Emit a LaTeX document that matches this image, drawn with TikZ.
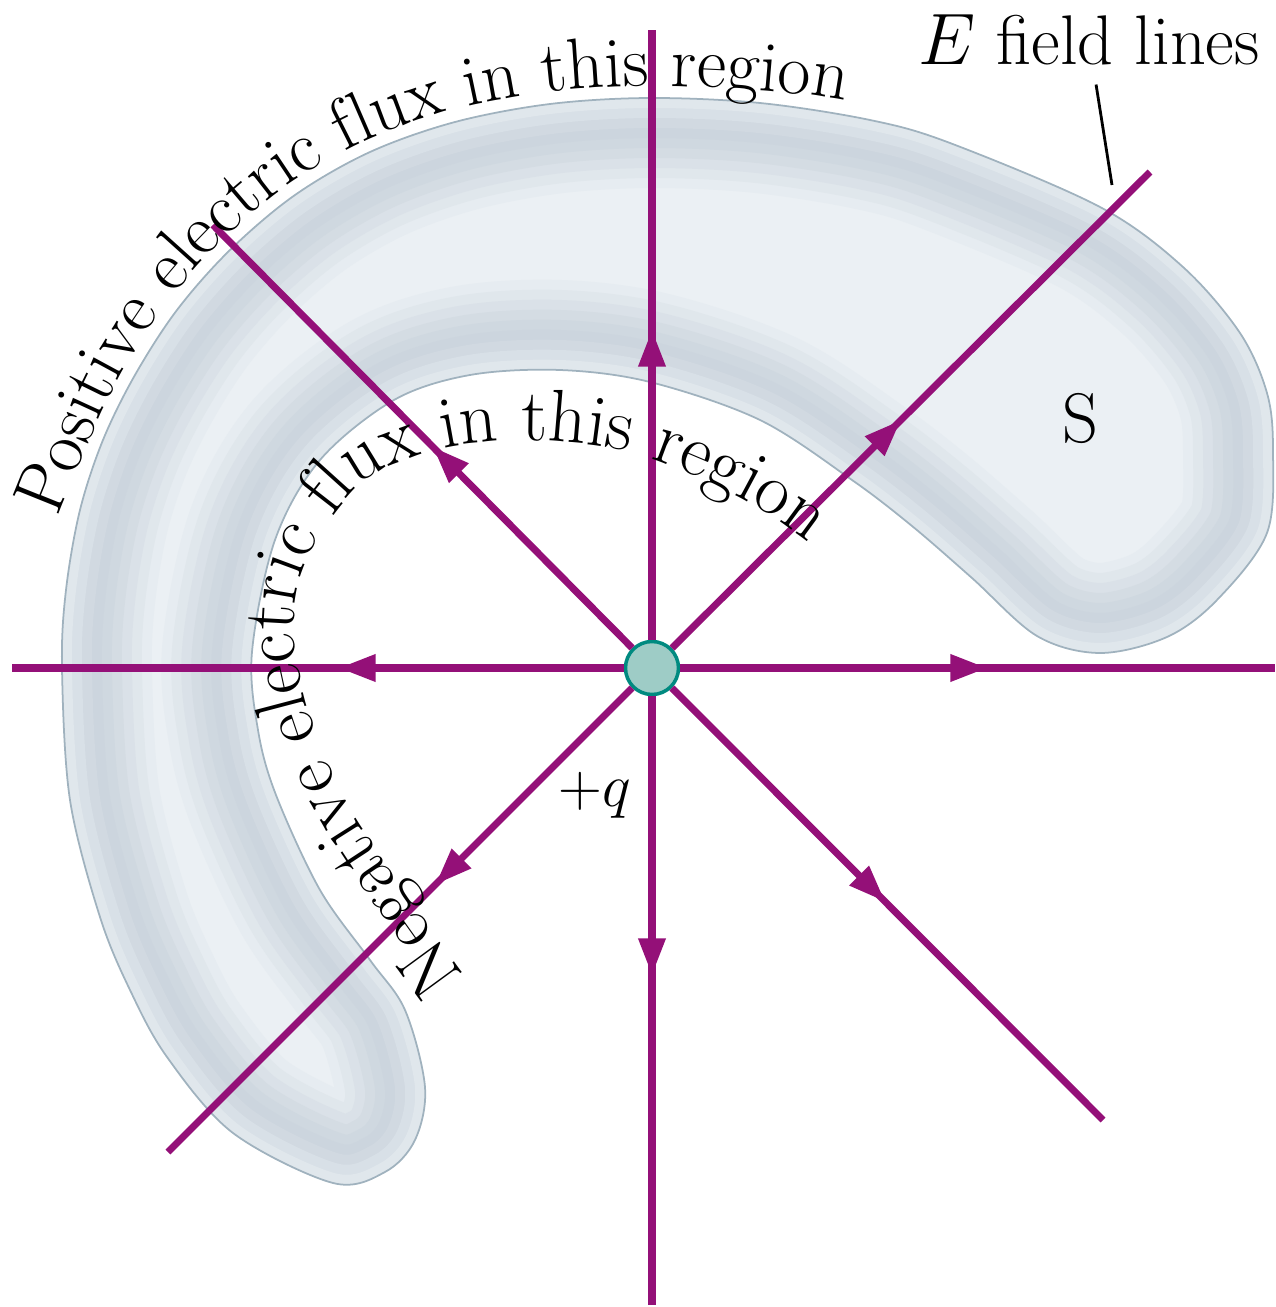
\documentclass[tikz,border=0pt]{standalone}
\usetikzlibrary{arrows.meta,decorations.markings,decorations.text}
\definecolor{fieldline}{RGB}{148,16,120}
\definecolor{bandlight}{RGB}{235,240,244}
\definecolor{bandshade}{RGB}{204,213,222}
\definecolor{bandedge}{RGB}{160,178,190}
\definecolor{chargefill}{RGB}{158,204,198}
\definecolor{chargeedge}{RGB}{0,138,128}
\newcommand{\fluxfont}{\fontsize{20.5}{24}\selectfont}
\newcommand{\holefont}{\fontsize{21}{25}\selectfont}
\newcommand{\bandpath}{plot[smooth cycle,tension=0.55] coordinates {(-3.19,-5.15) (-4.19,-4.65) (-4.85,-3.89) (-5.22,-3.22) (-5.52,-2.49) (-5.82,-1.32) (-5.90,0.00) (-5.86,0.78) (-5.72,1.58) (-5.49,2.28) (-5.17,2.93) (-4.75,3.58) (-4.22,4.18) (-3.57,4.73) (-2.82,5.16) (-1.97,5.46) (-1.02,5.64) (-0.02,5.70) (1.08,5.65) (2.18,5.48) (2.98,5.25) (4.48,4.61) (5.31,4.01) (5.88,3.35) (6.15,2.75) (6.21,2.18) (6.15,1.35) (5.65,0.68) (5.15,0.31) (4.48,0.15) (3.85,0.32) (3.20,0.90) (2.60,1.42) (2.00,1.88) (1.08,2.48) (-0.02,2.86) (-0.92,2.98) (-1.82,2.93) (-2.58,2.68) (-3.32,2.08) (-3.77,1.28) (-4.00,0.16) (-3.94,-0.62) (-3.76,-1.27) (-3.32,-2.22) (-2.82,-2.92) (-2.47,-3.42) (-2.27,-4.19) (-2.37,-4.72) (-2.67,-5.04)}}
\tikzset{field/.style={color=fieldline,line width=2pt},
 charge/.style={circle,fill=chargefill,draw=chargeedge,line width=1pt,minimum size=5.3mm,inner sep=0pt},
 arrowat/.style={postaction={decorate},decoration={markings,mark=at position #1 with {\arrow{Triangle[length=3.7mm,width=2.6mm]}}}},
 leader/.style={draw=black,line width=0.8pt},
 every picture/.style={line join=round}}

\begin{document}
\begin{tikzpicture}[]
\useasboundingbox (-6.52,-6.39) rectangle (6.23,6.68);
% surface S
\begin{scope}
\clip \bandpath;
\fill[bandlight] (-6.52,-6.39) rectangle (6.23,6.68);
\draw[bandshade!15!bandlight,line width=1.8cm] \bandpath;
\draw[bandshade!35!bandlight,line width=1.6cm] \bandpath;
\draw[bandshade!55!bandlight,line width=1.4cm] \bandpath;
\draw[bandshade!75!bandlight,line width=1.2cm] \bandpath;
\draw[bandshade!90!bandlight,line width=1.0cm] \bandpath;
\draw[bandshade,line width=0.8cm] \bandpath;
\draw[bandshade!85!bandlight,line width=0.6cm] \bandpath;
\draw[bandshade!60!bandlight,line width=0.4cm] \bandpath;
\draw[bandshade!35!bandlight,line width=0.2cm] \bandpath;
\end{scope}
\draw[bandedge,line width=0.5pt] \bandpath;
\node[charge] (q) at (0,0) {};
\coordinate (endN) at (0,6.38);
\coordinate (endS) at (0,-6.37);
\coordinate (endW) at (-6.40,0);
\coordinate (endE) at (6.23,0);
\coordinate (endNW) at (-4.39,4.43);
\coordinate (endNE) at (4.98,4.96);
\coordinate (endSW) at (-4.84,-4.84);
\coordinate (endSE) at (4.51,-4.52);
\draw[field,arrowat=3.10cm] (q) -- (endN);
\draw[field,arrowat=2.79cm] (q) -- (endS);
\draw[field,arrowat=2.85cm] (q) -- (endW);
\draw[field,arrowat=3.07cm] (q) -- (endE);
\draw[field,arrowat=2.83cm] (q) -- (endNW);
\draw[field,arrowat=3.23cm] (q) -- (endNE);
\draw[field,arrowat=2.78cm] (q) -- (endSW);
\draw[field,arrowat=3.02cm] (q) -- (endSE);
\path[decorate,decoration={text along path,text={|\fluxfont|Positive electric flux in this region}}] plot[smooth] coordinates {(-5.94,1.50) (-5.60,2.33) (-5.28,2.99) (-4.84,3.66) (-4.30,4.27) (-3.64,4.83) (-2.87,5.27) (-2.00,5.58) (-1.03,5.76) (-0.02,5.82) (1.09,5.77) (2.20,5.60) (4.54,4.72)};
\path[decorate,decoration={text along path,text={|\holefont|Negative electric flux in this region}}] plot[smooth] coordinates {(-1.87,-3.07) (-2.27,-2.52) (-2.72,-1.87) (-3.12,-1.22) (-3.42,-0.47) (-3.58,0.28) (-3.52,0.90) (-3.26,1.42) (-2.84,1.90) (-2.22,2.16) (-1.62,2.26) (-0.92,2.26) (-0.22,2.16) (0.48,1.90) (1.18,1.53) (1.78,1.08) (2.28,0.58) (2.78,-0.02)};
\node[font=\fontsize{20}{24}\selectfont] (elabel) at (4.37,6.28) {$E$ field lines};
\coordinate (leadend) at (4.60,4.83);
\draw[leader,shorten <=2pt] (elabel) -- (leadend);
\node[font=\fontsize{20}{24}\selectfont] (slabel) at (4.28,2.50) {S};
\node[font=\fontsize{19}{22}\selectfont] (qlabel) at (-0.57,-1.27) {$+q$};
\end{tikzpicture}
\end{document}
